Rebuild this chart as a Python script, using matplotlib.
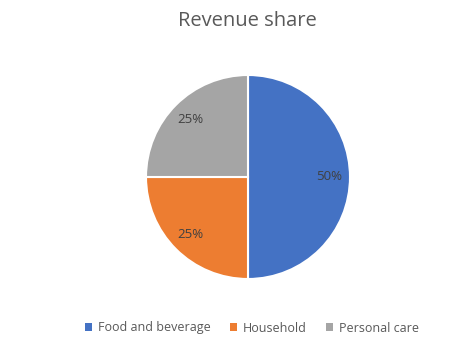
import matplotlib

matplotlib.use("Agg")
import matplotlib.pyplot as plt
from matplotlib.patches import Patch

categories = ["Food and beverage", "Household", "Personal care"]
shares = [50, 25, 25]
colors = ["#4472C4", "#ED7D31", "#A5A5A5"]

plt.rcParams["font.family"] = ["Open Sans", "DejaVu Sans"]

W, H = 472, 352
fig = plt.figure(figsize=(W / 100, H / 100), dpi=100)

# pie centred at (248, 177) px from top-left, radius 102 px
cx, cy, r = 248, 177, 102
ax = fig.add_axes([(cx - r) / W, (H - cy - r) / H, 2 * r / W, 2 * r / H])
wedges, _, autotexts = ax.pie(
    shares,
    colors=colors,
    startangle=90,
    counterclock=False,
    autopct="%d%%",
    pctdistance=0.8,
    wedgeprops=dict(edgecolor="white", linewidth=1.5),
    textprops=dict(color="#404040", fontsize=9.5),
    radius=1.0,
)
ax.set_xlim(-1.0, 1.0)
ax.set_ylim(-1.0, 1.0)
ax.set_aspect("equal")
ax.axis("off")

fig.text(247 / W, 1 - 21 / H, "Revenue share", ha="center", va="center",
         fontsize=14.5, color="#595959")

handles = [Patch(facecolor=c, edgecolor="none") for c in colors]
fig.legend(
    handles, categories,
    loc="center", bbox_to_anchor=(252 / W, 1 - 328 / H),
    ncol=3, frameon=False, fontsize=9,
    labelcolor="#595959", handlelength=0.55, handleheight=0.55,
    handletextpad=0.5, columnspacing=1.5,
)

fig.savefig("out.png", dpi=100)
